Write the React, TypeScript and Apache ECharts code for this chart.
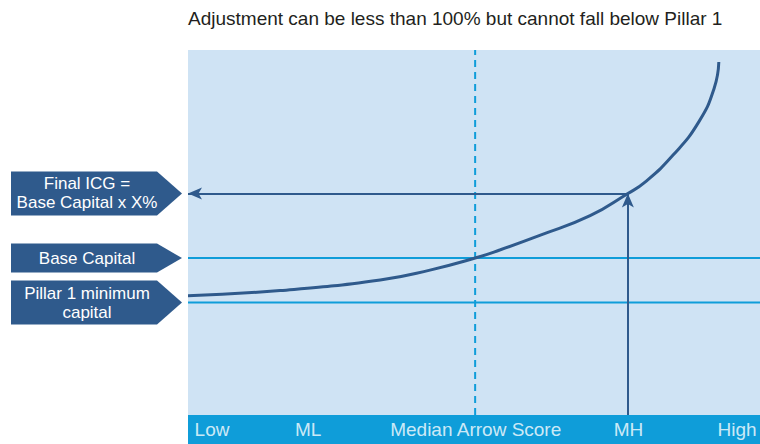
import React, { useEffect, useRef } from "react";
import * as echarts from "echarts";

const TITLE = "Adjustment can be less than 100% but cannot fall below Pillar 1";

// Arrow score runs from 0 (Low) to 100 (High); band labels sit at these scores
const scoreLabels = ["Low", "ML", "Median Arrow Score", "MH", "High"];
const scoreLabelPositions = [4.2, 21, 50.3, 77, 96];

// Capital requirement curve (relative capital units against arrow score)
const curveScores = [0, 16.1, 33.6, 42.3, 50.2, 54.5, 61.5, 70.3, 76.9, 79.9, 84.8, 89.3, 92.0, 92.8];
const curveCapital = [32.7, 34.1, 37.0, 39.7, 43.0, 45.2, 49.2, 54.6, 60.7, 63.8, 71.2, 80.3, 89.6, 96.7];

// Reference levels and scores
const pillar1Capital = 30.8;
const baseCapital = 43.0;
const finalCapital = 60.7;
const medianScore = 50.2;
const mhScore = 76.9;

const levelTexts = ["Final ICG =\nBase Capital x X%", "Base Capital", "Pillar 1 minimum\ncapital"];
const levelValues = [finalCapital, baseCapital, pillar1Capital];

const FONT = '"Liberation Sans", Arial, Helvetica, sans-serif';
const DARK = "#2f5a8c";
const BRIGHT = "#0f9dd9";
const PLOT_BG = "#cfe3f4";

export default function App() {
  const ref = useRef<HTMLDivElement>(null);

  useEffect(() => {
    const chart = echarts.init(ref.current!, null, { renderer: "svg" });

    const hLine = (value: number) => ({
      type: "line",
      data: [
        [0, value],
        [100, value],
      ],
      symbol: "none",
      lineStyle: { color: BRIGHT, width: 2 },
      silent: true,
      z: 2,
    });

    chart.setOption({
      animation: false,
      title: {
        text: TITLE,
        left: 188,
        top: 9,
        padding: 0,
        textStyle: { fontSize: 19, fontWeight: "normal", color: "#231f20", fontFamily: FONT },
      },
      grid: [
        { left: 188, right: 0, top: 50, bottom: 29, show: true, backgroundColor: PLOT_BG, borderWidth: 0 },
        { left: 188, right: 0, top: 415, height: 29, show: true, backgroundColor: BRIGHT, borderWidth: 0 },
      ],
      xAxis: [
        { gridIndex: 0, type: "value", min: 0, max: 100, show: false },
        { gridIndex: 1, type: "value", min: 0, max: 100, show: false },
      ],
      yAxis: [
        { gridIndex: 0, type: "value", min: 0, max: 100, show: false },
        { gridIndex: 1, type: "value", min: 0, max: 1, show: false },
      ],
      series: [
        hLine(baseCapital),
        hLine(pillar1Capital),
        {
          type: "line",
          data: [
            [medianScore, 0],
            [medianScore, 100],
          ],
          symbol: "none",
          lineStyle: { color: BRIGHT, width: 2, type: [7, 5] },
          silent: true,
          z: 2,
        },
        {
          type: "line",
          data: [],
          clip: false,
          z: 3,
          markLine: {
            silent: true,
            symbol: ["none", "arrow"],
            symbolSize: [9, 14],
            label: { show: false },
            lineStyle: { color: DARK, width: 2, type: "solid" },
            data: [
              [{ coord: [mhScore, 0] }, { coord: [mhScore, finalCapital] }],
              [{ coord: [mhScore, finalCapital] }, { coord: [0, finalCapital] }],
            ],
          },
        },
        {
          type: "line",
          smooth: 0.5,
          data: curveScores.map((s, i) => [s, curveCapital[i]]),
          symbol: "none",
          lineStyle: { color: DARK, width: 3 },
          silent: true,
          z: 5,
        },
        {
          type: "scatter",
          xAxisIndex: 1,
          yAxisIndex: 1,
          symbolSize: 0,
          silent: true,
          data: scoreLabels.map((name, i) => ({ value: [scoreLabelPositions[i], 0.5], name })),
          label: {
            show: true,
            position: "inside",
            formatter: "{b}",
            color: "#ffffff",
            fontSize: 19,
            fontFamily: FONT,
          },
        },
      ],
    });

    // Level tags on the left, each centred on its capital level
    const tags = levelTexts.map((text, i) => {
      const cy = chart.convertToPixel({ yAxisIndex: 0 }, levelValues[i]) as number;
      const lines = text.split("\n").length;
      const h = 14 + 15 * lines;
      return {
        type: "group",
        children: [
          {
            type: "polygon",
            shape: {
              points: [
                [11, cy - h / 2],
                [157, cy - h / 2],
                [182, cy],
                [157, cy + h / 2],
                [11, cy + h / 2],
              ],
            },
            style: { fill: DARK },
          },
          {
            type: "text",
            x: 87,
            y: cy,
            style: {
              text,
              fill: "#ffffff",
              font: `17px ${FONT}`,
              align: "center",
              verticalAlign: "middle",
              lineHeight: 19,
            },
          },
        ],
      };
    });
    chart.setOption({ graphic: tags });

    return () => chart.dispose();
  }, []);

  return <div ref={ref} style={{ position: "absolute", left: 0, top: 0, width: 760, height: 444 }} />;
}
